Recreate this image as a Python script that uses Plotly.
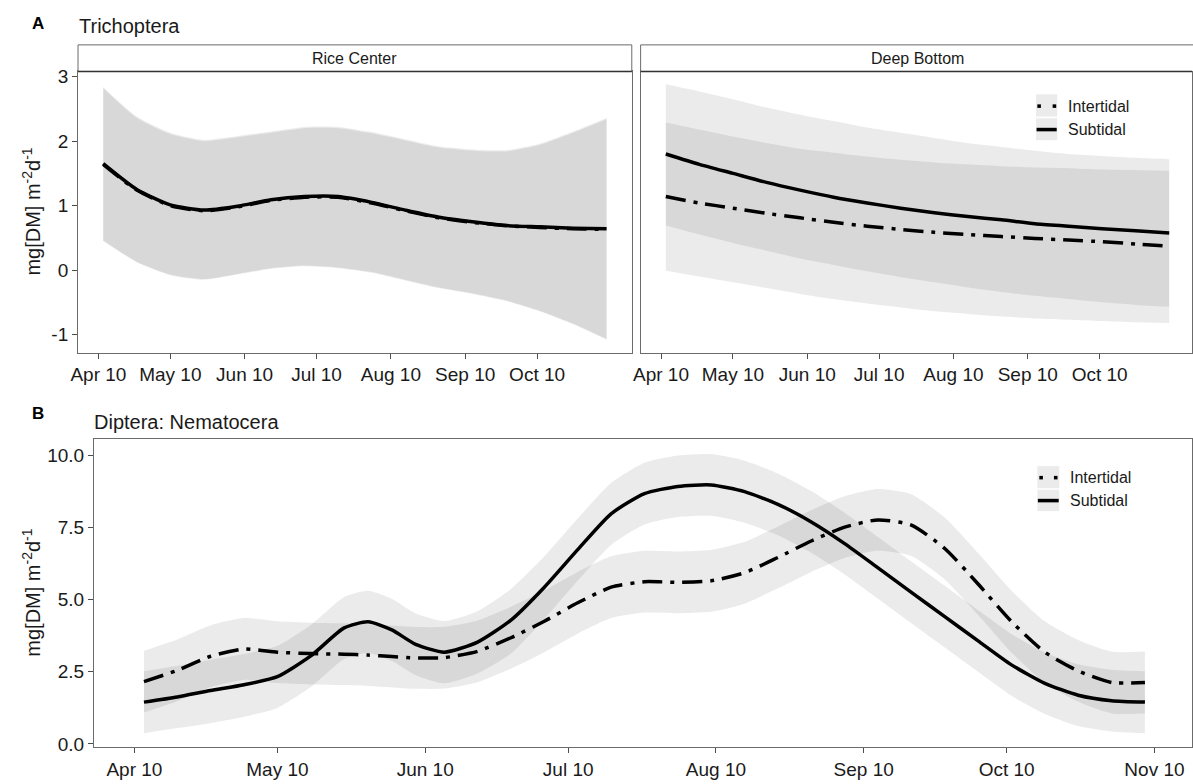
import plotly.graph_objects as go
from datetime import datetime, timedelta

# ---------------- data ----------------
top_dates = ["2021-04-12", "2021-04-26", "2021-05-10", "2021-05-24", "2021-06-07", "2021-06-21",
             "2021-07-05", "2021-07-19", "2021-08-02", "2021-08-16", "2021-08-30", "2021-09-13",
             "2021-09-27", "2021-10-11", "2021-10-25", "2021-11-08"]

# Rice Center
rc_sub = [1.65, 1.25, 1.01, 0.93, 0.99, 1.09, 1.14, 1.14, 1.05, 0.93, 0.82, 0.75, 0.69, 0.67, 0.65, 0.64]
rc_int = [1.64, 1.24, 1.00, 0.92, 0.98, 1.08, 1.13, 1.13, 1.04, 0.92, 0.81, 0.74, 0.69, 0.66, 0.64, 0.63]
rc_sub_hi = [2.84, 2.38, 2.13, 2.02, 2.08, 2.15, 2.22, 2.22, 2.14, 2.03, 1.92, 1.87, 1.86, 1.96, 2.15, 2.36]
rc_sub_lo = [0.45, 0.12, -0.08, -0.15, -0.07, 0.02, 0.06, 0.03, -0.04, -0.16, -0.28, -0.37, -0.48, -0.64, -0.84, -1.08]
rc_int_hi = [2.82, 2.36, 2.11, 2.00, 2.06, 2.13, 2.20, 2.20, 2.12, 2.01, 1.90, 1.85, 1.84, 1.94, 2.13, 2.34]
rc_int_lo = [0.46, 0.13, -0.07, -0.14, -0.06, 0.03, 0.07, 0.04, -0.03, -0.15, -0.27, -0.36, -0.47, -0.63, -0.83, -1.07]

# Deep Bottom
db_sub = [1.80, 1.64, 1.50, 1.36, 1.24, 1.13, 1.04, 0.96, 0.89, 0.83, 0.78, 0.72, 0.68, 0.64, 0.61, 0.575]
db_int = [1.14, 1.04, 0.96, 0.88, 0.81, 0.74, 0.68, 0.63, 0.585, 0.55, 0.52, 0.49, 0.465, 0.44, 0.405, 0.37]
db_sub_hi = [2.88, 2.77, 2.65, 2.52, 2.41, 2.31, 2.21, 2.13, 2.05, 1.97, 1.91, 1.85, 1.80, 1.77, 1.74, 1.72]
db_sub_lo = [0.69, 0.55, 0.42, 0.30, 0.18, 0.08, -0.02, -0.11, -0.19, -0.27, -0.34, -0.40, -0.45, -0.50, -0.54, -0.57]
db_int_hi = [2.29, 2.18, 2.07, 1.97, 1.88, 1.82, 1.76, 1.71, 1.67, 1.64, 1.61, 1.59, 1.58, 1.56, 1.55, 1.54]
db_int_lo = [-0.01, -0.10, -0.19, -0.28, -0.37, -0.45, -0.52, -0.58, -0.64, -0.68, -0.72, -0.75, -0.77, -0.79, -0.81, -0.82]

bot_dates = ["2021-04-12", "2021-04-19", "2021-04-26", "2021-05-03", "2021-05-10", "2021-05-17",
             "2021-05-24", "2021-05-29", "2021-06-03", "2021-06-08", "2021-06-14", "2021-06-21",
             "2021-06-28", "2021-07-05", "2021-07-12", "2021-07-19", "2021-07-26", "2021-08-02",
             "2021-08-09", "2021-08-16", "2021-08-23", "2021-08-30", "2021-09-06", "2021-09-13",
             "2021-09-20", "2021-09-27", "2021-10-04", "2021-10-11", "2021-10-18", "2021-10-25",
             "2021-11-01", "2021-11-08"]

dn_sub = [1.45, 1.63, 1.85, 2.05, 2.33, 3.05, 4.02, 4.23, 3.95, 3.45, 3.18, 3.53, 4.29, 5.43, 6.73, 7.97,
          8.67, 8.92, 8.97, 8.74, 8.30, 7.69, 6.94, 6.10, 5.25, 4.41, 3.57, 2.74, 2.10, 1.69, 1.50, 1.45]
dn_sub_hi = [2.52, 2.71, 2.92, 3.12, 3.40, 4.12, 5.09, 5.31, 5.03, 4.52, 4.26, 4.60, 5.37, 6.50, 7.81, 9.04,
             9.74, 9.99, 10.04, 9.81, 9.37, 8.76, 8.01, 7.17, 6.32, 5.48, 4.64, 3.81, 3.17, 2.76, 2.57, 2.52]
dn_sub_lo = [0.37, 0.55, 0.72, 0.94, 1.25, 1.97, 2.94, 3.15, 2.87, 2.38, 2.10, 2.44, 3.13, 4.33, 5.65, 6.89,
             7.60, 7.86, 7.90, 7.66, 7.23, 6.62, 5.87, 5.03, 4.18, 3.34, 2.50, 1.67, 1.04, 0.62, 0.43, 0.37]
dn_int = [2.16, 2.55, 3.04, 3.29, 3.18, 3.13, 3.11, 3.08, 3.03, 2.98, 2.99, 3.21, 3.68, 4.25, 4.89, 5.43,
          5.62, 5.60, 5.65, 5.93, 6.46, 7.03, 7.51, 7.76, 7.58, 6.77, 5.54, 4.24, 3.18, 2.53, 2.13, 2.13]
dn_int_hi = [3.23, 3.62, 4.11, 4.36, 4.25, 4.20, 4.18, 4.15, 4.10, 4.05, 4.06, 4.28, 4.75, 5.32, 5.96, 6.50,
             6.69, 6.67, 6.72, 7.00, 7.53, 8.10, 8.58, 8.83, 8.65, 7.84, 6.61, 5.31, 4.25, 3.60, 3.20, 3.20]
dn_int_lo = [1.09, 1.48, 1.97, 2.22, 2.11, 2.06, 2.04, 2.01, 1.96, 1.91, 1.92, 2.14, 2.61, 3.18, 3.82, 4.36,
             4.55, 4.53, 4.58, 4.86, 5.39, 5.96, 6.44, 6.69, 6.51, 5.70, 4.47, 3.17, 2.11, 1.46, 1.06, 1.06]

top_tickvals = ["2021-04-10", "2021-05-10", "2021-06-10", "2021-07-10", "2021-08-10", "2021-09-10", "2021-10-10"]
top_ticktext = ["Apr 10", "May 10", "Jun 10", "Jul 10", "Aug 10", "Sep 10", "Oct 10"]
bot_tickvals = top_tickvals + ["2021-11-10"]
bot_ticktext = top_ticktext + ["Nov 10"]
top_yvals = [-1, 0, 1, 2, 3]
top_ytext = ["-1", "0", "1", "2", "3"]
bot_yvals = [0, 2.5, 5, 7.5, 10]
bot_ytext = ["0.0", "2.5", "5.0", "7.5", "10.0"]

series_names = ["Intertidal", "Subtidal"]
facet_names = ["Rice Center", "Deep Bottom"]

# ---------------- layout helpers ----------------
W, H = 1193, 784
FONT = "Liberation Sans, Arial, Helvetica, sans-serif"
TXT = "#1a1a1a"
BAND = "rgba(0,0,0,0.08)"
BORDER = "#6b6b6b"

def fx(px):
    return px / W

def fy(py):
    return 1 - py / H

start = datetime(2021, 4, 1, 12)
top_scale = (629.0 - 71.5) / 231.0      # px per day
bot_scale = (1196.0 - 87.5) / 231.0

fig = go.Figure()


def add_band(x, lo, hi, xa, ya):
    fig.add_trace(go.Scatter(x=x, y=lo, mode="lines", line=dict(width=0, shape="spline", smoothing=0.6),
                             hoverinfo="skip", showlegend=False, xaxis=xa, yaxis=ya))
    fig.add_trace(go.Scatter(x=x, y=hi, mode="lines", line=dict(width=0, shape="spline", smoothing=0.6),
                             fill="tonexty", fillcolor=BAND, hoverinfo="skip", showlegend=False,
                             xaxis=xa, yaxis=ya))


def add_line(x, y, dash, xa, ya, name):
    fig.add_trace(go.Scatter(x=x, y=y, mode="lines", name=name,
                             line=dict(color="black", width=3.5, dash=dash, shape="spline", smoothing=0.6),
                             showlegend=False, xaxis=xa, yaxis=ya))

DASHDOT = "20px,8px,4px,8px"

# panel A left
add_band(top_dates, rc_sub_lo, rc_sub_hi, "x", "y")
add_band(top_dates, rc_int_lo, rc_int_hi, "x", "y")
add_line(top_dates, rc_int, DASHDOT, "x", "y", series_names[0])
add_line(top_dates, rc_sub, "solid", "x", "y", series_names[1])
# panel A right
add_band(top_dates, db_sub_lo, db_sub_hi, "x2", "y2")
add_band(top_dates, db_int_lo, db_int_hi, "x2", "y2")
add_line(top_dates, db_int, DASHDOT, "x2", "y2", series_names[0])
add_line(top_dates, db_sub, "solid", "x2", "y2", series_names[1])
# panel B
add_band(bot_dates, dn_sub_lo, dn_sub_hi, "x3", "y3")
add_band(bot_dates, dn_int_lo, dn_int_hi, "x3", "y3")
add_line(bot_dates, dn_int, DASHDOT, "x3", "y3", series_names[0])
add_line(bot_dates, dn_sub, "solid", "x3", "y3", series_names[1])

common_x = dict(type="date", showgrid=False, zeroline=False, ticks="outside", ticklen=5,
                tickcolor="#4d4d4d", tickwidth=1, showline=True, linecolor=BORDER, linewidth=1,
                mirror=True, tickfont=dict(family=FONT, size=19, color=TXT))
common_y = dict(showgrid=False, zeroline=False, ticks="outside", ticklen=5, tickcolor="#4d4d4d",
                tickwidth=1, showline=True, linecolor=BORDER, linewidth=1, mirror=True,
                tickfont=dict(family=FONT, size=19, color=TXT))

x1_dom = [fx(71.5), fx(629.0)]
x2_dom = [fx(637.9), 1.0]
x3_dom = [fx(87.5), 1.0]
ytop_dom = [fy(353.0), fy(67.5)]
ybot_dom = [fy(754.0), fy(440.5)]

r1 = [start, start + timedelta(days=231)]
r2 = [start, start + timedelta(days=(W - 637.9) / top_scale)]
r3 = [start, start + timedelta(days=(W - 87.5) / bot_scale)]

fig.update_layout(
    width=W, height=H, margin=dict(l=0, r=0, t=0, b=0),
    paper_bgcolor="white", plot_bgcolor="white", showlegend=False,
    font=dict(family=FONT, color=TXT),
    xaxis=dict(common_x, domain=x1_dom, range=r1, tickvals=top_tickvals, ticktext=top_ticktext, anchor="y"),
    yaxis=dict(common_y, domain=ytop_dom, range=[-1.28, 3.08], tickvals=top_yvals, ticktext=top_ytext, anchor="x"),
    xaxis2=dict(common_x, domain=x2_dom, range=r2, tickvals=top_tickvals, ticktext=top_ticktext, anchor="y2"),
    yaxis2=dict(common_y, domain=ytop_dom, range=[-1.28, 3.08], showticklabels=False, ticks="", anchor="x2"),
    xaxis3=dict(common_x, domain=x3_dom, range=r3, tickvals=bot_tickvals, ticktext=bot_ticktext, anchor="y3"),
    yaxis3=dict(common_y, domain=ybot_dom, range=[-0.12, 10.57], tickvals=bot_yvals, ticktext=bot_ytext, anchor="x3"),
)

shapes = []
annotations = []

# facet strips
for (x0, x1), label in zip([(71.5, 629.0), (637.9, W + 2)], facet_names):
    shapes.append(dict(type="rect", xref="paper", yref="paper", x0=fx(x0), x1=fx(x1), y0=fy(67.5), y1=fy(40.5),
                       line=dict(color=BORDER, width=1), fillcolor="white", layer="above"))
    annotations.append(dict(xref="paper", yref="paper", x=fx((x0 + min(x1, 1195.4)) / 2), y=fy(54), text=label,
                            showarrow=False, font=dict(family=FONT, size=16, color=TXT),
                            xanchor="center", yanchor="middle"))
# strip bottom darker line
shapes.append(dict(type="line", xref="paper", yref="paper", x0=fx(71.5), x1=fx(629.0), y0=fy(67.5), y1=fy(67.5),
                   line=dict(color="#333333", width=1.5), layer="above"))
shapes.append(dict(type="line", xref="paper", yref="paper", x0=fx(637.9), x1=1.0, y0=fy(67.5), y1=fy(67.5),
                   line=dict(color="#333333", width=1.5), layer="above"))

# manual legends
def legend(kx0, kx1, ky0, ky1, ky2, ky3, tx, ty1, ty2, dots):
    for a, b in [(ky0, ky1), (ky2, ky3)]:
        shapes.append(dict(type="rect", xref="paper", yref="paper", x0=fx(kx0), x1=fx(kx1), y0=fy(b), y1=fy(a),
                           line=dict(width=0), fillcolor="#ebebeb", layer="above"))
    for d0, d1 in dots:
        shapes.append(dict(type="rect", xref="paper", yref="paper", x0=fx(d0), x1=fx(d1),
                           y0=fy(ty1 + 1.8), y1=fy(ty1 - 1.8), line=dict(width=0), fillcolor="black", layer="above"))
    shapes.append(dict(type="rect", xref="paper", yref="paper", x0=fx(kx0 + 0.5), x1=fx(kx1 - 0.5),
                       y0=fy(ty2 + 1.8), y1=fy(ty2 - 1.8), line=dict(width=0), fillcolor="black", layer="above"))
    for t, ty in zip(series_names, [ty1, ty2]):
        annotations.append(dict(xref="paper", yref="paper", x=fx(tx), y=fy(ty), text=t, showarrow=False,
                                xanchor="left", yanchor="middle", font=dict(family=FONT, size=16, color=TXT)))

legend(1036.0, 1057.3, 90.7, 113.3, 115.0, 137.3, 1066.0, 102.7, 126.5,
       [(1037.3, 1040.9), (1052.7, 1056.3)])
legend(1037.3, 1059.3, 468.3, 490.7, 492.3, 514.0, 1068.5, 480.0, 503.3,
       [(1039.3, 1042.9), (1054.0, 1057.6)])

# panel titles
annotations += [
    dict(xref="paper", yref="paper", x=fx(23), y=fy(19), text="<b>A</b>", showarrow=False,
         xanchor="left", yanchor="middle", font=dict(family=FONT, size=17, color="black")),
    dict(xref="paper", yref="paper", x=fx(70.5), y=fy(21.5), text="Trichoptera", showarrow=False,
         xanchor="left", yanchor="middle", font=dict(family=FONT, size=20, color=TXT)),
    dict(xref="paper", yref="paper", x=fx(23), y=fy(415), text="<b>B</b>", showarrow=False,
         xanchor="left", yanchor="middle", font=dict(family=FONT, size=17, color="black")),
    dict(xref="paper", yref="paper", x=fx(86), y=fy(423), text="Diptera: Nematocera", showarrow=False,
         xanchor="left", yanchor="middle", font=dict(family=FONT, size=20, color=TXT)),
]
ytitle = "mg[DM] m<sup>-2</sup>d<sup>-1</sup>"
for cy in [210.0, 597.0]:
    annotations.append(dict(xref="paper", yref="paper", x=fx(25), y=fy(cy), text=ytitle, showarrow=False,
                            textangle=-90, xanchor="center", yanchor="middle",
                            font=dict(family=FONT, size=20, color=TXT)))

fig.update_layout(shapes=shapes, annotations=annotations)
fig.write_html("out.html")
